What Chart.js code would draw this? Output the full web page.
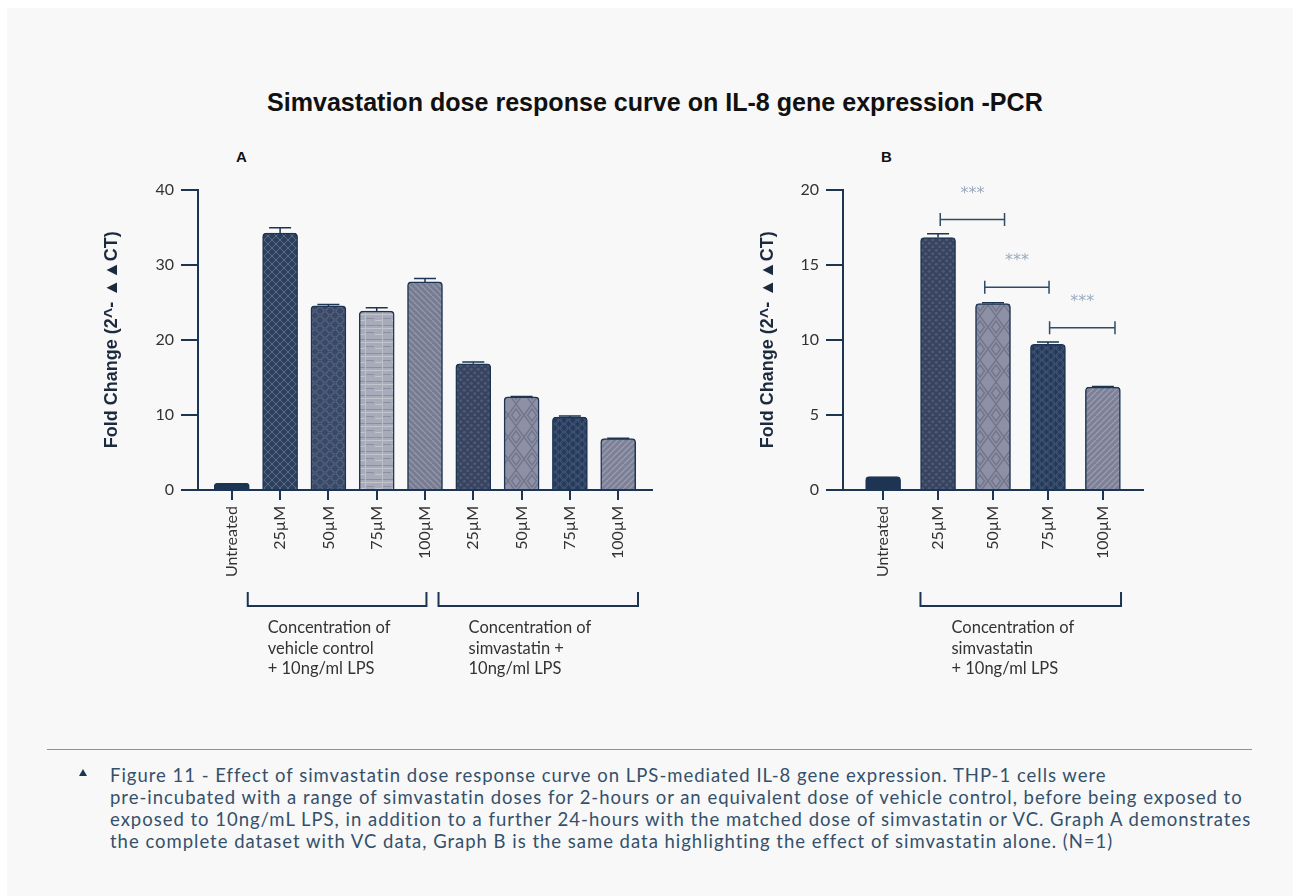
<!DOCTYPE html>
<html>
<head>
<meta charset="utf-8">
<script src="https://cdn.jsdelivr.net/npm/chart.js@4.4.0/dist/chart.umd.min.js"></script>
<style>
  html, body { margin: 0; padding: 0; background: #fff; }
  body { width: 1293px; height: 896px; position: relative; overflow: hidden; font-family: Lato, "Open Sans", sans-serif; }
  #panel { position: absolute; left: 7px; top: 8px; right: 0; bottom: 0; background: #f8f8f8; }
  .abs { position: absolute; white-space: nowrap; }
  #title { left: 267px; top: 102px; transform: translateY(-50%); font: bold 24px "Liberation Sans", Arial, sans-serif; color: #111; }
  .panel-tag { top: 148px; font: bold 15px "Liberation Sans", Arial, sans-serif; color: #111; }
  #rule { left: 47px; top: 749px; width: 1205px; height: 0; border-top: 1.5px solid #7d98ac; }
  #bullet { left: 79px; top: 769px; width: 0; height: 0; border-left: 4.5px solid transparent; border-right: 4.5px solid transparent; border-bottom: 7px solid #1d3552; }
  #caption { left: 110px; top: 764px; font-size: 18.5px; line-height: 22px; color: #34506b; }
  #caption div { height: 22px; }
  .chart-box { position: absolute; }
</style>
</head>
<body>
<div id="panel"></div>
<div class="abs" id="title">Simvastation dose response curve on IL-8 gene expression -PCR</div>
<div class="abs panel-tag" style="left:236px">A</div>
<div class="abs panel-tag" style="left:881px">B</div>

<div class="chart-box" style="left:60px; top:140px;"><canvas id="chartA" width="620" height="560"></canvas></div>
<div class="chart-box" style="left:700px; top:140px;"><canvas id="chartB" width="470" height="560"></canvas></div>

<div class="abs" id="rule"></div>
<div class="abs" id="bullet"></div>
<div class="abs" id="caption">
  <div>Figure 11 - Effect of simvastatin dose response curve on LPS-mediated IL-8 gene expression. THP-1 cells were</div>
  <div id="capLong">pre-incubated with a range of simvastatin doses for 2-hours or an equivalent dose of vehicle control, before being exposed to</div>
  <div>exposed to 10ng/mL LPS, in addition to a further 24-hours with the matched dose of simvastatin or VC. Graph A demonstrates</div>
  <div>the complete dataset with VC data, Graph B is the same data highlighting the effect of simvastatin alone. (N=1)</div>
</div>

<script>
// Fold change values (2^-ddCT) and error bars
const doses = ['25µM', '50µM', '75µM', '100µM'];
const untreatedFold = 0.9;
const vehicleFold = [34.2, 24.5, 23.8, 27.7];
const vehicleErr = [0.7, 0.2, 0.45, 0.45];
const simvaFold = [16.8, 12.4, 9.7, 6.85];
const simvaErr = [0.25, 0.06, 0.15, 0.04];

// significance brackets on graph B (category index span, fold change height)
const sigFrom = [1.04, 1.85, 3.03];
const sigTo = [2.21, 3.02, 4.22];
const sigY = [18.0, 13.5, 10.8];
const sigText = ['***', '***', '***'];

const labelsA = ['Untreated', ...doses, ...doses];
const valuesA = [untreatedFold, ...vehicleFold, ...simvaFold];
const errorsA = [0, ...vehicleErr, ...simvaErr];
const labelsB = ['Untreated', ...doses];
const valuesB = [untreatedFold, ...simvaFold];
const errorsB = [0, ...simvaErr];

const navy = '#1d3552';
Chart.defaults.font.family = 'Lato, "Open Sans", sans-serif';

// stretch the title by font size and the caption by letter spacing
function measure(el) {
    const old = el.style.display;
    el.style.display = 'inline-block';
    const w = el.getBoundingClientRect().width;
    el.style.display = old;
    return w;
}
const titleEl = document.getElementById('title');
titleEl.style.fontSize = (24 * 776 / measure(titleEl)).toFixed(2) + 'px';
const capLong = document.getElementById('capLong');
const spacing = (1133 - measure(capLong)) / capLong.textContent.length;
document.getElementById('caption').style.letterSpacing = spacing.toFixed(3) + 'px';

// Fill patterns
function makePattern(w, h, base, draw) {
    const c = document.createElement('canvas');
    c.width = w; c.height = h;
    const g = c.getContext('2d');
    g.fillStyle = base;
    g.fillRect(0, 0, w, h);
    draw(g, w, h);
    return g.createPattern(c, 'repeat');
}

function stripes(g, w, h, color, dir) {
    g.strokeStyle = color;
    g.lineWidth = 1.3;
    for (let k = -1; k <= 1; k++) {
        g.beginPath();
        if (dir > 0) { g.moveTo(k * w, h); g.lineTo(k * w + w, 0); }
        else { g.moveTo(k * w, 0); g.lineTo(k * w + w, h); }
        g.stroke();
    }
}

function circles(g, pts, r, color, width) {
    g.strokeStyle = color;
    g.lineWidth = width;
    pts.forEach(([x, y]) => { g.beginPath(); g.arc(x, y, r, 0, Math.PI * 2); g.stroke(); });
}

const patterns = {
    solid: navy,
    lattice: makePattern(8, 8, '#2c3f5c', (g) => {
        g.strokeStyle = '#5b6d86'; g.lineWidth = 1;
        g.beginPath(); g.moveTo(0, 0); g.lineTo(8, 8); g.moveTo(8, 0); g.lineTo(0, 8); g.stroke();
    }),
    hexDark: makePattern(10, 9, '#3a4868', (g, w, h) => {
        circles(g, [[0, 0], [10, 0], [0, 9], [10, 9], [5, 4.5]], 3.6, '#52617c', 1);
    }),
    bricks: makePattern(17, 14, '#a8abb9', (g) => {
        g.fillStyle = '#8b8fa1'; g.fillRect(0, 3, 17, 1); g.fillRect(0, 10, 8, 1);
        g.fillStyle = '#c3c5ce'; g.fillRect(0, 6, 17, 1); g.fillRect(9, 12, 8, 1);
        g.fillStyle = '#bfc1ca'; g.fillRect(16, 0, 1, 14);
    }),
    backStripe: makePattern(6, 6, '#787c93', (g, w, h) => stripes(g, w, h, '#9397aa', -1)),
    dots: makePattern(7, 7, '#38445f', (g) => {
        g.fillStyle = '#4d5a76';
        [[1.75, 1.75], [5.25, 5.25]].forEach(([x, y]) => { g.beginPath(); g.arc(x, y, 1.6, 0, Math.PI * 2); g.fill(); });
    }),
    diamonds: makePattern(16, 22, '#8e91a5', (g) => {
        g.strokeStyle = '#72768d'; g.lineWidth = 1.4;
        g.beginPath(); g.moveTo(8, 0); g.lineTo(16, 11); g.lineTo(8, 22); g.lineTo(0, 11); g.closePath(); g.stroke();
        g.beginPath(); g.moveTo(8, 5); g.lineTo(12.5, 11); g.lineTo(8, 17); g.lineTo(3.5, 11); g.closePath(); g.stroke();
    }),
    hexCircles: makePattern(9, 8, '#243857', (g) => {
        circles(g, [[0, 0], [9, 0], [0, 8], [9, 8], [4.5, 4]], 3.8, '#3e5274', 1.1);
    }),
    foreStripe: makePattern(6, 6, '#7d8198', (g, w, h) => stripes(g, w, h, '#9a9db0', 1))
};

const fillsA = ['solid', 'lattice', 'hexDark', 'bricks', 'backStripe', 'dots', 'diamonds', 'hexCircles', 'foreStripe'].map(k => patterns[k]);
const fillsB = ['solid', 'dots', 'diamonds', 'hexCircles', 'foreStripe'].map(k => patterns[k]);

// Error bars above each bar
const errorBars = {
    id: 'errorBars',
    afterDatasetsDraw(chart, args, opts) {
        const meta = chart.getDatasetMeta(0);
        const y = chart.scales.y;
        const data = chart.data.datasets[0].data;
        const ctx = chart.ctx;
        ctx.save();
        ctx.strokeStyle = navy;
        ctx.lineWidth = 1.5;
        opts.errors.forEach((e, i) => {
            if (!e) return;
            const bar = meta.data[i];
            const top = y.getPixelForValue(data[i].y + e);
            ctx.beginPath();
            ctx.moveTo(bar.x, bar.y);
            ctx.lineTo(bar.x, top);
            ctx.moveTo(bar.x - 11, top);
            ctx.lineTo(bar.x + 11, top);
            ctx.stroke();
        });
        ctx.restore();
    }
};

// Group brackets and labels under the category axis, plus significance marks
const annotations = {
    id: 'annotations',
    afterDraw(chart, args, opts) {
        const ctx = chart.ctx;
        const x = chart.scales.x;
        const y = chart.scales.y;
        const base = chart.chartArea.bottom;
        ctx.save();
        ctx.strokeStyle = navy;
        ctx.lineWidth = 2;
        (opts.groups || []).forEach(grp => {
            const x1 = x.getPixelForValue(grp.from);
            const x2 = x.getPixelForValue(grp.to);
            ctx.beginPath();
            ctx.moveTo(x1, base + 102);
            ctx.lineTo(x1, base + 116);
            ctx.lineTo(x2, base + 116);
            ctx.lineTo(x2, base + 102);
            ctx.stroke();
            ctx.fillStyle = '#333';
            ctx.font = '16.5px Lato, "Open Sans", sans-serif';
            ctx.textBaseline = 'middle';
            ctx.textAlign = 'left';
            grp.lines.forEach((line, k) => ctx.fillText(line, x1 + grp.indent, base + 138 + k * 20.5));
        });
        if (opts.sig) {
            ctx.lineWidth = 1.5;
            ctx.strokeStyle = '#2f4b66';
            sigFrom.forEach((from, i) => {
                const x1 = x.getPixelForValue(from);
                const x2 = x.getPixelForValue(sigTo[i]);
                const yy = y.getPixelForValue(sigY[i]);
                ctx.beginPath();
                ctx.moveTo(x1, yy - 6.5); ctx.lineTo(x1, yy + 6.5);
                ctx.moveTo(x1, yy); ctx.lineTo(x2, yy);
                ctx.moveTo(x2, yy - 6.5); ctx.lineTo(x2, yy + 6.5);
                ctx.stroke();
                ctx.fillStyle = '#9aabbd';
                ctx.font = '16px "DejaVu Sans", sans-serif';
                ctx.textAlign = 'center';
                ctx.textBaseline = 'middle';
                ctx.fillText(sigText[i], (x1 + x2) / 2, yy - 26);
            });
        }
        ctx.restore();
    }
};

function buildChart(canvasId, labels, values, errors, fills, cfg) {
    return new Chart(document.getElementById(canvasId), {
        type: 'bar',
        data: {
            datasets: [{
                data: values.map((v, i) => ({ x: i, y: v })),
                backgroundColor: fills,
                borderColor: navy,
                borderWidth: 1.5,
                borderRadius: { topLeft: 4, topRight: 4 },
                borderSkipped: 'bottom',
                barThickness: 35
            }]
        },
        options: {
            responsive: false,
            animation: false,
            events: [],
            devicePixelRatio: 1,
            layout: { padding: { top: 49.5, right: cfg.rightPad, bottom: 100, left: 0 } },
            plugins: {
                legend: { display: false },
                tooltip: { enabled: false },
                errorBars: { errors: errors },
                annotations: { groups: cfg.groups, sig: cfg.sig }
            },
            scales: {
                x: {
                    type: 'linear',
                    offset: false,
                    min: -cfg.edge,
                    max: labels.length - 1 + cfg.edge,
                    afterBuildTicks: s => { s.ticks = labels.map((l, i) => ({ value: i })); },
                    afterFit: s => { s.height = 110; },
                    border: { color: navy, width: 2 },
                    grid: { offset: false, drawOnChartArea: false, drawTicks: true, tickLength: 10, color: navy, lineWidth: 2 },
                    ticks: {
                        autoSkip: false,
                        minRotation: 90,
                        maxRotation: 90,
                        padding: 6,
                        color: '#333',
                        font: { size: 16 },
                        callback: v => labels[v]
                    }
                },
                y: {
                    min: 0,
                    max: cfg.yMax,
                    afterFit: s => { s.width = cfg.axisWidth; },
                    border: { color: navy, width: 2 },
                    grid: { drawOnChartArea: false, drawTicks: true, tickLength: 17, color: navy, lineWidth: 2 },
                    ticks: { stepSize: cfg.step, padding: 7, color: '#333', font: { size: 16 } },
                    title: {
                        display: true,
                        text: 'Fold Change (2^- ▲▲CT)',
                        color: '#1b2a3d',
                        font: { family: '"Liberation Sans", "DejaVu Sans", sans-serif', size: 18, weight: 'bold' },
                        padding: { top: cfg.titlePad, bottom: 0 }
                    }
                }
            }
        },
        plugins: [errorBars, annotations]
    });
}

buildChart('chartA', labelsA, valuesA, errorsA, fillsA, {
    yMax: 40, step: 10, axisWidth: 138, rightPad: 28, edge: 0.7, titlePad: 41,
    sig: false,
    groups: [
        { from: 0.33, to: 4.03, indent: 20, lines: ['Concentration of', 'vehicle control', '+ 10ng/ml LPS'] },
        { from: 4.28, to: 8.41, indent: 30, lines: ['Concentration of', 'simvastatin +', '10ng/ml LPS'] }
    ]
});

buildChart('chartB', labelsB, valuesB, errorsB, fillsB, {
    yMax: 20, step: 5, axisWidth: 143, rightPad: 27, edge: 0.73, titlePad: 57,
    sig: true,
    groups: [
        { from: 0.68, to: 4.33, indent: 31, lines: ['Concentration of', 'simvastatin', '+ 10ng/ml LPS'] }
    ]
});
</script>
</body>
</html>
